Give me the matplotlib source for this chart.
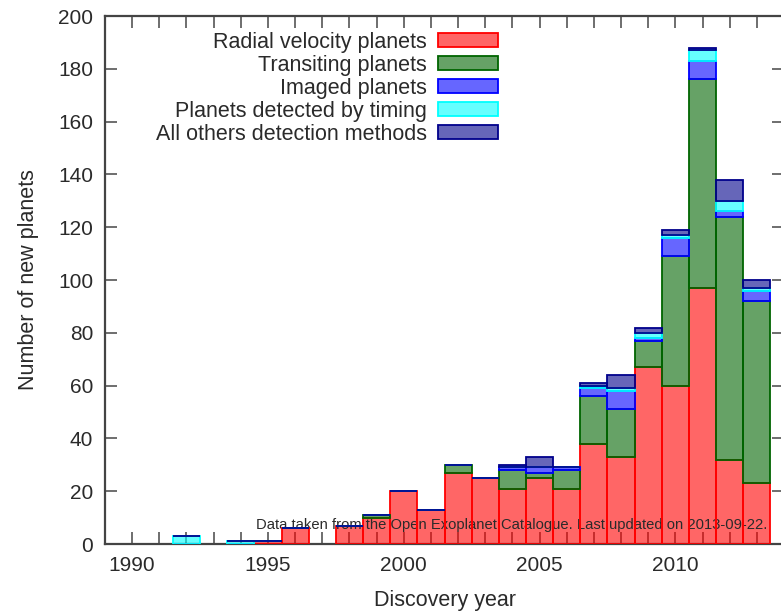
import numpy as np
import matplotlib.pyplot as plt
from matplotlib.colors import to_rgba
from matplotlib.patches import Patch

plt.rcParams['font.family'] = ['Liberation Sans', 'DejaVu Sans']

# Exoplanet discoveries per year, split by detection method
years = np.arange(1989, 2014)
radial_velocity = [0, 0, 0, 0, 0, 0, 1, 6, 0, 7, 10, 20, 13, 27, 25, 21, 25, 21, 38, 33, 67, 60, 97, 32, 23]
transiting = [0, 0, 0, 0, 0, 0, 0, 0, 0, 0, 1, 0, 0, 3, 0, 7, 2, 7, 18, 18, 10, 49, 79, 92, 69]
imaged = [0, 0, 0, 0, 0, 0, 0, 0, 0, 0, 0, 0, 0, 0, 0, 1, 2, 1, 3, 7, 1, 7, 7, 2, 4]
timing = [0, 0, 0, 3, 0, 1, 0, 0, 0, 0, 0, 0, 0, 0, 0, 0, 0, 0, 1, 1, 2, 1, 4, 4, 1]
others = [0, 0, 0, 0, 0, 0, 0, 0, 0, 0, 0, 0, 0, 0, 0, 1, 4, 0, 1, 5, 2, 2, 1, 8, 3]

labels = ['Radial velocity planets', 'Transiting planets', 'Imaged planets',
          'Planets detected by timing', 'All others detection methods']
colors = ['#ff0000', '#006400', '#0000ff', '#00ffff', '#00008b']
series = [radial_velocity, transiting, imaged, timing, others]

text_color = '#2a2a2a'
fig = plt.figure(figsize=(7.81, 6.13), dpi=100)
ax = fig.add_axes([105 / 781, 69 / 613, 679 / 781, 528 / 613])

data = np.array(series, dtype=float)
has_data = data.sum(axis=0) > 0
x = years[has_data]

bottom = np.zeros(len(x))
for vals, col in zip(data, colors):
    h = vals[has_data]
    # translucent fill first, solid outline on top
    ax.bar(x, h, width=1.0, bottom=bottom, facecolor=to_rgba(col, 0.6),
           edgecolor='none', zorder=2)
    ax.bar(x, h, width=1.0, bottom=bottom, fill=False, edgecolor=col,
           linewidth=1.3, zorder=4)
    bottom += h

ax.set_xlim(1989, 2014)
ax.set_ylim(0, 200)
ax.set_xticks([1990, 1995, 2000, 2005, 2010])
ax.set_xticks(np.arange(1989, 2015), minor=True)
ax.set_yticks(np.arange(0, 201, 20))
ax.tick_params(which='both', direction='in', top=True, right=True,
               length=8.5, width=1.2, color='#555555', pad=8.5,
               labelsize=15, labelcolor=text_color)
for sp in ax.spines.values():
    sp.set_color('#444444')
    sp.set_linewidth(1.6)

ax.set_xlabel('Discovery year', fontsize=15.5, color=text_color, labelpad=11)
ax.set_ylabel('Number of new planets', fontsize=15.5, color=text_color, labelpad=14)

handles = [Patch(facecolor=to_rgba(c, 0.6), edgecolor=c, linewidth=1.3) for c in colors]
ax.legend(handles, labels, loc='upper right', bbox_to_anchor=(498 / 781, 1 - 32 / 613),
          bbox_transform=fig.transFigure, frameon=False, markerfirst=False,
          fontsize=15.5, handlelength=2.8, handleheight=0.62, handletextpad=0.5,
          labelspacing=0.09, borderpad=0, borderaxespad=0, labelcolor=text_color)

ax.text(0.975, 0.028, 'Data taken from the Open Exoplanet Catalogue. Last updated on 2013-09-22.',
        transform=ax.transAxes, ha='right', va='baseline', fontsize=10.6,
        color=text_color, zorder=3)

fig.savefig('out.png', dpi=100)
